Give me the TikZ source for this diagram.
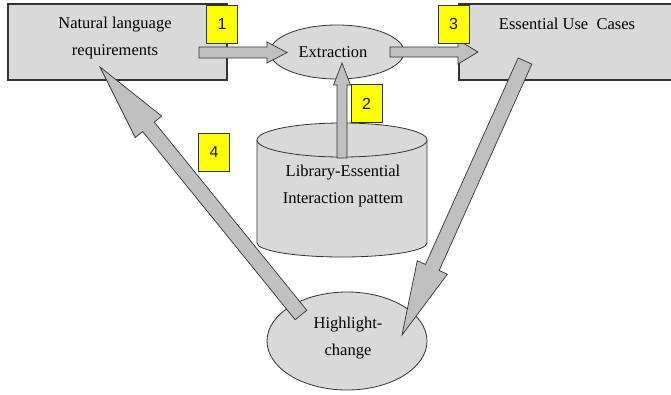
\documentclass[tikz,border=0pt]{standalone}
\usepackage{fontspec}
\setmainfont{Liberation Serif}
\newfontfamily\badgefont{Liberation Sans}
\usetikzlibrary{calc,shapes.geometric}
\definecolor{boxfill}{HTML}{D9D9D9}
\definecolor{arrfill}{HTML}{C0C0C0}
\definecolor{edge}{HTML}{333333}
\definecolor{badgey}{HTML}{FFFF00}
\tikzset{
  boxnode/.style={draw=edge, line width=1.1pt, fill=boxfill, rectangle, inner sep=0pt},
  ellnode/.style={draw=edge, line width=0.8pt, fill=boxfill, ellipse, inner sep=0pt},
  txt/.style={align=center, inner sep=0pt, text=black, font=\fontsize{16.5}{27}\selectfont},
  fatarrow/.style={draw=edge, line width=0.7pt, fill=arrfill, line join=miter},
  badge/.style={draw=edge, line width=0.8pt, fill=badgey, minimum width=31pt, minimum height=38pt, inner sep=0pt, font=\badgefont\fontsize{16}{16}\selectfont, text=black!90}
}
\newcommand\fatarr[5]{%
  \path ($(#2)!#5!(#1)$) coordinate (fa-hb);
  \filldraw[fatarrow] ($(#1)!#3!90:(#2)$) -- ($(fa-hb)!#3!-90:(#1)$) -- ($(fa-hb)!#4!-90:(#1)$) -- (#2) -- ($(fa-hb)!#4!90:(#1)$) -- ($(fa-hb)!#3!90:(#1)$) -- ($(#1)!#3!-90:(#2)$) -- cycle;}
\begin{document}
\begin{tikzpicture}[x=1pt,y=1pt]
\useasboundingbox[fill=white] (0,0) rectangle (671,-394);
% boxes
\node[boxnode, minimum width=219pt, minimum height=76pt] (nlr) at (117.5,-42) {};
\node[txt] (nlrt) at (115,-38.5) {Natural language\\requirements};
\node[boxnode, minimum width=230pt, minimum height=76pt] (euc) at (574,-42) {};
\node[txt, anchor=base] (euct) at (567,-29) {Essential Use\ \ Cases};
% extraction
\node[ellnode, minimum width=134pt, minimum height=54pt] (ext) at (337,-52) {};
\node[txt] (extt) at (333,-52) {Extraction};
% cylinder
\filldraw[draw=edge, line width=0.8pt, fill=boxfill] (257,-140) -- (257,-243) arc[start angle=180, end angle=360, x radius=85, y radius=14] -- (427,-140) arc[start angle=0, end angle=180, x radius=85, y radius=17] -- cycle;
\draw[edge, line width=0.8pt] (257,-140) arc[start angle=180, end angle=360, x radius=85, y radius=17];
\node[txt] (lib) at (343,-186) {Library-Essential\\Interaction pattem};
% highlight
\node[ellnode, minimum width=160pt, minimum height=98pt] (hc) at (347,-341) {};
\node[txt] (hct) at (348,-338.5) {Highlight-\\change};
% arrow ends
\coordinate (a1s) at (199,-52.5);
\coordinate (a1t) at (287,-52.5);
\coordinate (a3s) at (390,-52);
\coordinate (a3t) at (478,-52);
\coordinate (a2s) at (342,-158);
\coordinate (a2t) at (342,-63);
\coordinate (a5s) at (525,-61);
\coordinate (a5t) at (402,-335);
\coordinate (a4s) at (301,-315);
\coordinate (a4t) at (100,-67);
\fatarr{a1s}{a1t}{5.5pt}{10.5pt}{20pt}
\fatarr{a3s}{a3t}{5pt}{12pt}{20pt}
\fatarr{a2s}{a2t}{5pt}{8.5pt}{22pt}
\fatarr{a5s}{a5t}{7.5pt}{16.5pt}{74pt}
\fatarr{a4s}{a4t}{7.5pt}{17pt}{77pt}
% badges
\node[badge] (b1) at (222,-24) {1};
\node[badge] (b2) at (366.5,-103.5) {2};
\node[badge] (b3) at (453.5,-24) {3};
\node[badge] (b4) at (214,-152) {4};
\end{tikzpicture}
\end{document}
